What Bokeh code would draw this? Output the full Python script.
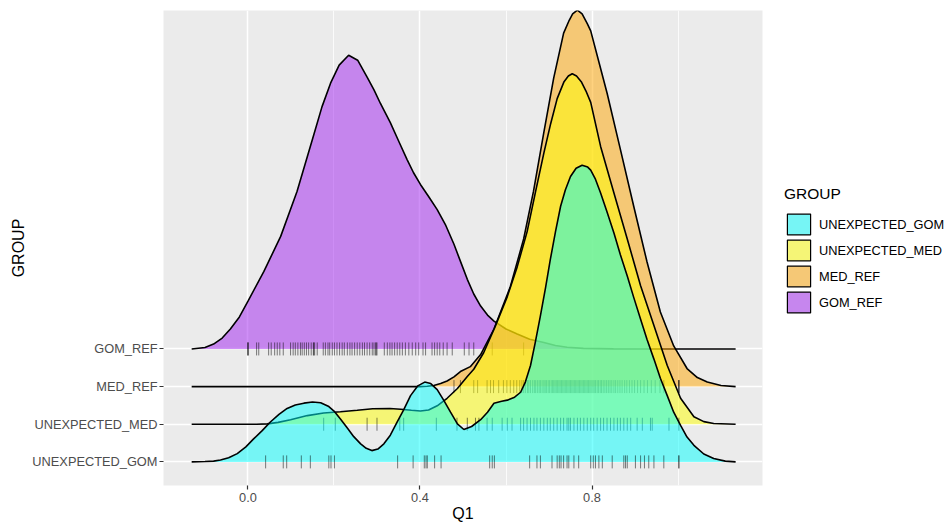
import math
from bokeh.plotting import figure
from bokeh.models import Range1d, FixedTicker, Legend, LegendItem, NumeralTickFormatter
from bokeh.embed import file_html
from bokeh.resources import INLINE

FONT = "Liberation Sans"
NAN = float("nan")

# rows, bottom to top (legend order top to bottom)
groups = ["UNEXPECTED_GOM", "UNEXPECTED_MED", "MED_REF", "GOM_REF"]
fill_colors = ["#00FFFF", "#FFFF00", "#FFA500", "#A020F0"]
key_colors = ["#76F5F5", "#F5F576", "#F5C876", "#C686EE"]

# ridge density curves: x and ridge height (in row units above the row baseline)
gom_ref_x = [-0.131, -0.100, -0.080, -0.060, -0.041, -0.020, 0.000, 0.037, 0.076, 0.114,
             0.153, 0.172, 0.192, 0.212, 0.234, 0.255, 0.277, 0.293, 0.308, 0.331,
             0.350, 0.370, 0.385, 0.401, 0.420, 0.440, 0.460, 0.479, 0.495, 0.510,
             0.525, 0.541, 0.557, 0.572, 0.600, 0.626, 0.655, 0.688, 0.715, 0.742,
             0.780, 0.850, 1.134]
gom_ref_h = [0.00, 0.04, 0.13, 0.29, 0.53, 0.85, 1.27, 2.06, 2.99, 4.18,
             5.69, 6.43, 7.06, 7.54, 7.80, 7.67, 7.22, 6.88, 6.52, 6.01,
             5.53, 5.03, 4.68, 4.37, 4.05, 3.70, 3.28, 2.78, 2.30, 1.85,
             1.46, 1.14, 0.90, 0.74, 0.53, 0.40, 0.26, 0.17, 0.09, 0.045,
             0.016, 0.003, 0.00]

med_ref_x = [-0.131, 0.400, 0.417, 0.432, 0.448, 0.463, 0.479, 0.494, 0.517, 0.541,
             0.572, 0.610, 0.641, 0.664, 0.688, 0.711, 0.734, 0.747, 0.755, 0.766,
             0.777, 0.789, 0.797, 0.820, 0.835, 0.866, 0.897, 0.928, 0.959, 0.990,
             1.021, 1.045, 1.068, 1.100, 1.134]
med_ref_h = [0.00, 0.00, 0.01, 0.03, 0.08, 0.15, 0.26, 0.40, 0.53, 0.85,
             1.53, 2.65, 3.92, 5.19, 6.75, 8.20, 9.39, 9.73, 9.90, 10.00,
             9.90, 9.64, 9.45, 8.45, 7.80, 6.30, 4.79, 3.31, 1.98, 1.08,
             0.48, 0.24, 0.12, 0.03, 0.00]

unexp_med_x = [-0.131, 0.020, 0.045, 0.070, 0.099, 0.138, 0.176, 0.215, 0.254, 0.290,
               0.330, 0.355, 0.380, 0.401, 0.420, 0.440, 0.463, 0.487, 0.510, 0.525,
               0.548, 0.575, 0.603, 0.626, 0.649, 0.668, 0.688, 0.704, 0.719, 0.735,
               0.745, 0.754, 0.764, 0.775, 0.786, 0.797, 0.820, 0.851, 0.882, 0.913,
               0.944, 0.975, 1.006, 1.037, 1.060, 1.083, 1.134]
unexp_med_h = [0.00, 0.00, 0.01, 0.05, 0.12, 0.23, 0.30, 0.33, 0.37, 0.41,
               0.42, 0.40, 0.37, 0.35, 0.38, 0.49, 0.69, 0.95, 1.27, 1.46,
               1.90, 2.60, 3.39, 4.18, 5.11, 6.14, 7.20, 7.99, 8.65, 9.10,
               9.25, 9.31, 9.25, 9.10, 8.85, 8.55, 7.38, 6.14, 4.92, 3.68,
               2.62, 1.56, 0.69, 0.20, 0.07, 0.02, 0.00]

unexp_gom_x = [-0.131, -0.100, -0.080, -0.064, -0.045, -0.025, -0.005, 0.013, 0.033, 0.052,
               0.072, 0.091, 0.110, 0.130, 0.150, 0.169, 0.188, 0.200, 0.215, 0.231,
               0.246, 0.262, 0.275, 0.288, 0.302, 0.316, 0.331, 0.347, 0.362, 0.378,
               0.395, 0.411, 0.425, 0.440, 0.455, 0.471, 0.487, 0.502, 0.520, 0.541,
               0.557, 0.572, 0.590, 0.603, 0.620, 0.634, 0.645, 0.657, 0.668, 0.680,
               0.692, 0.703, 0.715, 0.727, 0.738, 0.750, 0.763, 0.777, 0.790, 0.797,
               0.808, 0.820, 0.835, 0.851, 0.866, 0.882, 0.897, 0.913, 0.928, 0.944,
               0.959, 0.975, 0.990, 1.006, 1.021, 1.037, 1.060, 1.083, 1.110, 1.134]
unexp_gom_h = [0.00, 0.01, 0.02, 0.05, 0.11, 0.22, 0.40, 0.61, 0.83, 1.06,
               1.26, 1.42, 1.51, 1.56, 1.59, 1.57, 1.47, 1.35, 1.14, 0.90,
               0.67, 0.48, 0.36, 0.30, 0.34, 0.48, 0.71, 1.06, 1.38, 1.76,
               2.02, 2.12, 2.08, 1.92, 1.64, 1.32, 1.01, 0.86, 0.94, 1.12,
               1.32, 1.56, 1.61, 1.64, 1.72, 1.85, 2.12, 2.56, 3.17, 3.88,
               4.63, 5.37, 6.11, 6.79, 7.22, 7.58, 7.80, 7.88, 7.83, 7.75,
               7.51, 7.14, 6.64, 6.08, 5.50, 4.94, 4.37, 3.79, 3.25, 2.73,
               2.22, 1.76, 1.32, 0.97, 0.66, 0.44, 0.21, 0.09, 0.02, 0.00]

# observed Q1 values (rug marks)
gom_ref_pts = [0.000, 0.000, 0.000, 0.020, 0.025, 0.048, 0.054, 0.062, 0.068, 0.074, 0.082,
               0.099, 0.105, 0.110, 0.116, 0.122, 0.126, 0.131, 0.136, 0.141, 0.147, 0.152,
               0.153, 0.155, 0.161, 0.175, 0.180, 0.186, 0.190, 0.196, 0.201, 0.207, 0.213,
               0.219, 0.224, 0.231, 0.237, 0.242, 0.248, 0.254, 0.260, 0.266, 0.271, 0.277,
               0.283, 0.289, 0.293, 0.297, 0.298, 0.300, 0.317, 0.324, 0.330, 0.335, 0.341,
               0.347, 0.353, 0.359, 0.366, 0.374, 0.382, 0.390, 0.397, 0.407, 0.413, 0.428,
               0.434, 0.440, 0.446, 0.454, 0.463, 0.475, 0.503, 0.514, 0.525, 0.568, 0.641]
med_ref_pts = [0.479, 0.494, 0.525, 0.534, 0.556, 0.564, 0.571, 0.583, 0.594, 0.602, 0.610,
               0.618, 0.625, 0.632, 0.637, 0.641, 0.645, 0.650, 0.653, 0.657, 0.662, 0.666,
               0.669, 0.673, 0.677, 0.680, 0.684, 0.688, 0.691, 0.694, 0.698, 0.701, 0.705,
               0.708, 0.711, 0.714, 0.717, 0.720, 0.723, 0.726, 0.729, 0.732, 0.735, 0.738,
               0.741, 0.744, 0.747, 0.750, 0.753, 0.756, 0.759, 0.762, 0.765, 0.768, 0.771,
               0.774, 0.777, 0.780, 0.783, 0.786, 0.789, 0.792, 0.795, 0.798, 0.802, 0.805,
               0.808, 0.812, 0.815, 0.819, 0.822, 0.826, 0.830, 0.834, 0.838, 0.842, 0.846,
               0.851, 0.855, 0.860, 0.865, 0.870, 0.876, 0.881, 0.887, 0.893, 0.899, 0.906,
               0.913, 0.921, 0.929, 0.938, 0.947, 0.958, 0.967, 1.002, 1.002, 1.002]
unexp_med_pts = [0.176, 0.203, 0.277, 0.300, 0.353, 0.362, 0.438, 0.486, 0.510, 0.529, 0.537,
                 0.556, 0.568, 0.591, 0.603, 0.614, 0.634, 0.641, 0.649, 0.657, 0.665, 0.672,
                 0.680, 0.688, 0.696, 0.703, 0.711, 0.719, 0.727, 0.734, 0.742, 0.746, 0.750,
                 0.758, 0.766, 0.773, 0.781, 0.789, 0.797, 0.804, 0.812, 0.820, 0.827, 0.835,
                 0.843, 0.851, 0.859, 0.866, 0.874, 0.882, 0.890, 0.905, 0.917, 0.936, 0.940,
                 0.979, 1.002]
unexp_gom_pts = [0.041, 0.082, 0.090, 0.124, 0.145, 0.188, 0.193, 0.201, 0.348, 0.384, 0.410,
                 0.414, 0.417, 0.434, 0.449, 0.562, 0.568, 0.573, 0.655, 0.672, 0.680, 0.707,
                 0.719, 0.724, 0.728, 0.734, 0.742, 0.746, 0.758, 0.769, 0.797, 0.803, 0.808,
                 0.816, 0.824, 0.847, 0.874, 0.878, 0.882, 0.901, 0.913, 0.922, 0.932, 0.944,
                 0.967, 1.002, 1.002]

curves_x = [unexp_gom_x, unexp_med_x, med_ref_x, gom_ref_x]
curves_h = [unexp_gom_h, unexp_med_h, med_ref_h, gom_ref_h]
rug_pts = [unexp_gom_pts, unexp_med_pts, med_ref_pts, gom_ref_pts]
for cx, ch in zip(curves_x, curves_h):
    assert len(cx) == len(ch)

p = figure(frame_width=599, frame_height=475,
           x_range=Range1d(-0.1965, 1.1965), y_range=Range1d(0.373, 12.99),
           output_backend="svg", toolbar_location=None,
           min_border_top=10, min_border_bottom=0, min_border_left=163, min_border_right=0)
p.background_fill_color = "#EBEBEB"
p.border_fill_color = "white"
p.outline_line_color = None

# axes
p.xaxis.ticker = FixedTicker(ticks=[0.0, 0.4, 0.8], minor_ticks=[0.2, 0.6, 1.0])
p.xaxis.formatter = NumeralTickFormatter(format="0.0")
p.yaxis.ticker = FixedTicker(ticks=[1, 2, 3, 4], minor_ticks=[])
p.yaxis.major_label_overrides = {i + 1: g for i, g in enumerate(groups)}
p.xaxis.axis_label = "Q1"
p.yaxis.axis_label = "GROUP"
for ax in (p.xaxis, p.yaxis):
    ax.axis_line_color = None
    ax.minor_tick_line_color = None
    ax.major_tick_line_color = "#333333"
    ax.major_tick_line_width = 1.2
    ax.major_tick_in = 0
    ax.major_tick_out = 4
    ax.major_label_standoff = 2
    ax.major_label_text_font = FONT
    ax.major_label_text_font_size = "12.8px"
    ax.major_label_text_color = "#4D4D4D"
    ax.major_label_text_line_height = 1.0
    ax.axis_label_text_font = FONT
    ax.axis_label_text_font_size = "16px"
    ax.axis_label_text_font_style = "normal"
    ax.axis_label_text_color = "black"
    ax.axis_label_standoff = 2
    ax.axis_label_text_line_height = 1.0
p.xaxis.major_label_standoff = 3
p.xaxis.axis_label_standoff = 0

p.xgrid.grid_line_color = "white"
p.xgrid.grid_line_width = 1.5
p.xgrid.minor_grid_line_color = "white"
p.xgrid.minor_grid_line_width = 0.8
p.ygrid.grid_line_color = "white"
p.ygrid.grid_line_width = 1.5

# ridges, drawn from the top row to the bottom row
for k in [3, 2, 1, 0]:
    base = k + 1
    xs = curves_x[k]
    top = [base + h for h in curves_h[k]]
    p.varea(x=xs, y1=[base] * len(xs), y2=top, fill_color=fill_colors[k], fill_alpha=0.5)
    p.line(x=xs, y=top, line_color="black", line_width=1.6)
    pts = rug_pts[k]
    p.scatter(x=pts, y=[base] * len(pts), marker="dash", size=13, angle=math.pi / 2,
              line_color="black", line_alpha=0.5, line_width=1)

# legend (key proxies carry no visible data)
items = []
for name, kc in zip(groups, key_colors):
    kp = p.patch(x=[NAN], y=[NAN], fill_color=kc, line_color="black", line_width=1.2)
    items.append(LegendItem(label=name, renderers=[kp]))

legend = Legend(items=items, title="GROUP", location=(22, 170))
legend.title_text_font = FONT
legend.title_text_font_size = "15.5px"
legend.title_text_font_style = "normal"
legend.title_text_color = "black"
legend.title_standoff = 8
legend.label_text_font = FONT
legend.label_text_font_size = "12.8px"
legend.label_text_color = "black"
legend.glyph_width = 29
legend.glyph_height = 26
legend.spacing = 0
legend.label_standoff = 6
legend.padding = 0
legend.margin = 11
legend.border_line_color = None
legend.background_fill_alpha = 0
p.add_layout(legend, "right")

open("out.html", "w").write(file_html(p, INLINE))
